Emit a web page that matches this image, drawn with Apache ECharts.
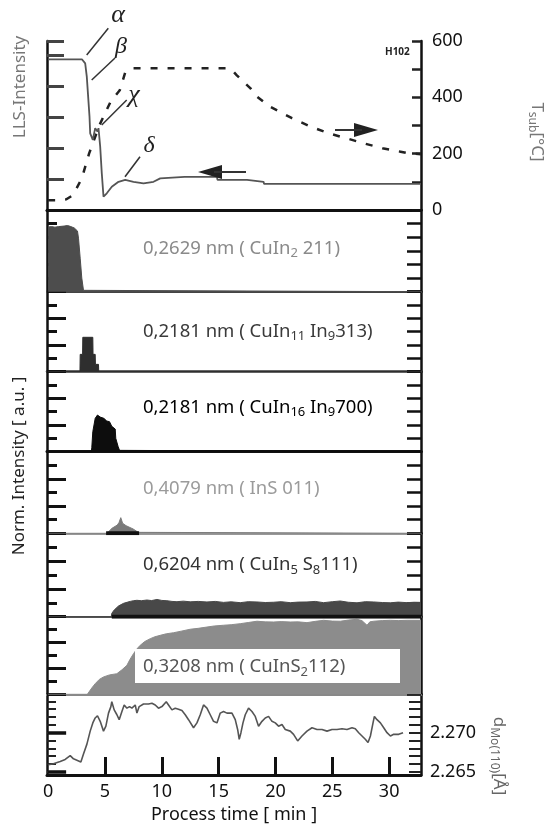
<!DOCTYPE html>
<html><head><meta charset="utf-8">
<script src="https://cdn.jsdelivr.net/npm/echarts@6/dist/echarts.min.js"></script>
<style>html,body{margin:0;padding:0;background:#fff}#c{width:548px;height:825px}</style>
</head><body><div id="c"></div>
<script>
// ---------- data ----------
const xTickLabels = [0, 5, 10, 15, 20, 25, 30];
const xTicks = [5, 10, 15, 20, 25, 30];
const tempTickLabels = [0, 200, 400, 600];
const dMoTickLabels = [2.265, 2.270];
const dMoMinorTicks = [2.265, 2.266, 2.267, 2.268, 2.269, 2.270, 2.271, 2.272, 2.273, 2.274];

const llsTime  = [0, 2.97, 3.26, 3.4, 3.64, 3.7, 3.93, 4.14, 4.34, 4.43, 4.58, 4.72, 4.87, 5.16, 5.6, 6.19, 6.78, 7.51, 8.39, 9.27, 9.86, 12.0, 14.85, 14.9, 17.5, 17.55, 18.95, 19.0, 32.8];
const llsValue = [4.86, 4.86, 4.73, 4.3, 3.01, 2.47, 2.26, 2.64, 2.53, 2.64, 2.04, 1.18, 0.43, 0.54, 0.75, 0.91, 0.97, 0.91, 0.86, 0.91, 1.02, 1.07, 1.07, 0.97, 0.97, 0.91, 0.91, 0.84, 0.84];

const tempTime  = [0, 1.0, 1.6, 2.2, 2.8, 3.0, 3.6, 4.5, 5.5, 6.3, 6.8, 7.5, 15.9, 16.3, 16.6, 17.8, 18.2, 19.5, 21.45, 23.1, 24.7, 26.2, 27.75, 29.4, 31.0, 31.7, 32.8];
const tempValue = [35, 35, 38, 53, 100, 117, 200, 300, 385, 425, 491, 503, 503, 491, 478, 432, 408, 367, 326, 296, 272, 255, 237, 219, 207, 201, 198];

// CuIn2 211
const p2Time  = [0, 0.3, 0.6, 0.91, 1.06, 1.4, 1.7, 1.94, 2.08, 2.3, 2.46, 2.58, 2.67, 2.82, 2.96, 3.11, 3.2, 32.8];
const p2Value = [4.75, 4.78, 4.74, 4.78, 4.85, 4.82, 4.86, 4.8, 4.7, 4.68, 4.66, 4.46, 3.93, 2.46, 1.0, 0.1, 0, 0];
// CuIn11 In9 313
const p3Time  = [0, 2.8, 2.82, 3.03, 3.05, 3.93, 3.95, 4.14, 4.16, 4.43, 4.45, 32.8];
const p3Value = [0, 0, 1.3, 1.3, 2.58, 2.58, 1.3, 1.3, 0.55, 0.55, 0, 0];
// CuIn16 In9 700
const p4Time  = [0, 3.8, 3.84, 3.93, 4.14, 4.34, 4.58, 4.9, 5.16, 5.4, 5.6, 5.75, 5.9, 5.95, 6.1, 6.15, 6.28, 6.32, 32.8];
const p4Value = [0, 0, 0.3, 1.5, 2.5, 2.75, 2.6, 2.5, 2.3, 2.25, 1.9, 1.8, 1.7, 1.0, 1.0, 0.4, 0.1, 0, 0];
// InS 011
const p5Time  = [0, 5.1, 5.32, 5.62, 6.09, 6.24, 6.39, 6.55, 6.85, 7.47, 7.93, 8.1, 32.8];
const p5Value = [0, 0, 0.12, 0.37, 0.61, 0.8, 1.15, 0.74, 0.56, 0.32, 0.07, 0, 0];
const p5BaseTime = [5.1, 8.0];
const p5BaseValue = [0, 0];
// CuIn5 S8 111
const p6Time  = [0, 5.55, 5.6, 5.81, 6.19, 6.63, 7.0, 7.22, 7.5, 7.81, 8.2, 8.69, 9.1, 9.57, 10.0, 10.45, 10.9, 11.33, 11.9, 12.5, 13.2, 13.97, 14.7, 15.43, 16.1, 16.9, 17.6, 18.37, 19.1, 19.83, 20.5, 21.3, 22.0, 22.77, 23.5, 24.23, 25.0, 25.7, 26.4, 27.17, 27.9, 28.64, 29.4, 30.1, 30.8, 31.58, 32.2, 32.8];
const p6Value = [0, 0, 0.24, 0.48, 0.77, 0.96, 1.05, 1.1, 1.15, 1.18, 1.15, 1.2, 1.16, 1.24, 1.17, 1.15, 1.1, 1.08, 1.12, 1.07, 1.1, 1.06, 1.1, 1.03, 1.07, 1.01, 1.08, 1.06, 1.02, 1.04, 1.08, 1.01, 1.05, 1.06, 1.1, 1.01, 1.08, 1.13, 1.04, 1.0, 1.08, 1.06, 1.02, 1.0, 1.05, 1.01, 1.04, 1.03];
const p6BaseTime = [5.6, 32.8];
const p6BaseValue = [0, 0];
// CuInS2 112
const p7Time  = [0, 3.45, 3.55, 3.85, 4.14, 4.5, 4.87, 5.4, 6.04, 6.5, 6.93, 7.2, 7.51, 7.8, 8.1, 8.5, 8.98, 9.4, 9.86, 10.4, 11.03, 11.7, 12.5, 13.2, 13.97, 14.6, 15.43, 16.1, 16.9, 17.6, 18.37, 19.1, 19.83, 20.5, 21.3, 22.0, 22.77, 23.5, 24.23, 25.0, 25.7, 26.4, 27.17, 27.6, 28.05, 28.3, 28.64, 29.4, 30.1, 30.8, 31.58, 32.8];
const p7Value = [0, 0, 0.15, 0.5, 0.82, 1.15, 1.34, 1.5, 1.59, 1.9, 2.24, 2.7, 3.14, 3.5, 3.79, 4.08, 4.3, 4.45, 4.56, 4.68, 4.76, 4.88, 5.03, 5.1, 5.2, 5.28, 5.34, 5.38, 5.46, 5.55, 5.65, 5.6, 5.59, 5.62, 5.59, 5.6, 5.54, 5.64, 5.72, 5.66, 5.65, 5.74, 5.8, 5.7, 5.34, 5.6, 5.65, 5.7, 5.72, 5.7, 5.72, 5.72];
// d Mo(110)
const dMoTime = [0.03, 0.47, 1.06, 1.5, 1.94, 2.23, 2.58, 2.88, 3.11, 3.41, 3.7, 3.93, 4.14, 4.34, 4.58, 4.87, 5.08, 5.31, 5.52, 5.6, 5.81, 6.05, 6.25, 6.49, 6.69, 6.93, 7.16, 7.37, 7.66, 7.81, 8.01, 8.39, 8.83, 9.13, 9.42, 9.71, 10.01, 10.39, 10.59, 10.89, 11.18, 11.47, 11.77, 12.06, 12.35, 12.79, 13.09, 13.38, 13.67, 13.97, 14.26, 14.55, 14.85, 15.14,
  15.43, 15.73, 16.17, 16.46, 16.67, 16.81, 16.96, 17.14, 17.34, 17.63, 17.93, 18.22, 18.51, 18.81, 19.1, 19.39, 19.69, 19.98, 20.27, 20.57, 20.86, 21.3, 21.59, 21.95, 22.33, 22.77, 23.21, 23.65, 24.09, 24.53, 24.97, 25.41, 25.85, 26.29, 26.73, 27.02, 27.32, 27.61, 27.9, 28.14, 28.35, 28.58, 28.7, 28.93, 29.23, 29.52, 29.81, 30.11, 30.4, 30.84, 31.22];
const dMoValue = [2.26591, 2.26604, 2.26633, 2.26658, 2.26708, 2.26666, 2.26645, 2.26625, 2.26729, 2.26854, 2.2702, 2.27125, 2.27188, 2.27216, 2.27145, 2.2702, 2.27083, 2.2725, 2.27333, 2.27395, 2.27291, 2.27229, 2.27166, 2.2727, 2.27354, 2.27313, 2.27333, 2.27313, 2.27354, 2.2725, 2.27333, 2.27366, 2.27366, 2.27375, 2.27354, 2.27313, 2.27333, 2.27395, 2.27354, 2.27291, 2.27313, 2.273, 2.27283, 2.27229, 2.27166, 2.27063, 2.27125, 2.27229, 2.27354, 2.27313, 2.27229, 2.27145, 2.27125, 2.2725,
  2.2727, 2.2725, 2.2725, 2.27166, 2.27041, 2.26916, 2.27, 2.27125, 2.27229, 2.27313, 2.2727, 2.27208, 2.27083, 2.27145, 2.27188, 2.27208, 2.27145, 2.27125, 2.27083, 2.27104, 2.27041, 2.2702, 2.26979, 2.26895, 2.26958, 2.2702, 2.27063, 2.27041, 2.27041, 2.2702, 2.27041, 2.27041, 2.2705, 2.27041, 2.27063, 2.2705, 2.27, 2.26958, 2.26916, 2.26875, 2.26958, 2.27125, 2.27208, 2.27166, 2.27125, 2.27063, 2.27, 2.26958, 2.26979, 2.26979, 2.27];

// ---------- layout ----------
const FONT = 'Noto Sans';
const LEFT = 47, WIDTH = 374, XMIN = -0.1, XMAX = 32.8;
const panels = [
  {top: 41, h: 169, base: {color: '#222', width: 2.5}},
  {top: 210, h: 81.7, base: {color: '#444', width: 2}},
  {top: 291.7, h: 80, base: {color: '#333', width: 2.5}},
  {top: 371.7, h: 80, base: {color: '#111', width: 3}},
  {top: 451.7, h: 81.6, base: {color: '#777', width: 1.5}},
  {top: 533.3, h: 83.4, base: {color: '#555', width: 2}},
  {top: 616.7, h: 77.6, base: {color: '#888', width: 2}},
  {top: 694.3, h: 82.4, base: {color: '#111', width: 3}}
];
const areaColors = ['#4d4d4d', '#2e2e2e', '#0d0d0d', '#7a7a7a', '#484848', '#8c8c8c'];
const pairs = (t, v) => t.map((x, i) => [x, v[i]]);

const grid = panels.map(p => ({left: LEFT, width: WIDTH, top: p.top, height: p.h}));
const xAxis = panels.map((p, i) => {
  const last = i === panels.length - 1;
  return {
    type: 'value', gridIndex: i, min: XMIN, max: XMAX, position: 'bottom',
    axisLine: {show: true, onZero: false, lineStyle: {color: p.base.color, width: p.base.width}},
    axisTick: last ? {show: true, inside: true, length: 18, customValues: xTicks, lineStyle: {color: '#111', width: 3}} : {show: false},
    axisLabel: last ? {show: true, customValues: xTickLabels, fontSize: 18, fontFamily: FONT, color: '#111', margin: 8} : {show: false},
    splitLine: {show: false},
    name: last ? 'Process time [ min ]' : '', nameLocation: 'middle', nameGap: 31,
    nameTextStyle: {fontSize: 18, fontFamily: FONT, color: '#111'}
  };
});
xAxis.push({type: 'value', gridIndex: 0, min: XMIN, max: XMAX, position: 'top',
  axisLine: {show: true, lineStyle: {color: '#111', width: 3}}, axisTick: {show: false}, axisLabel: {show: false}, splitLine: {show: false}});

const edge = {show: true, onZero: false, lineStyle: {color: '#111', width: 2.5}};
const yAxis = [];
// panel 0
yAxis.push({type: 'value', gridIndex: 0, position: 'left', min: 0, max: 5.45, interval: 1,
  axisLine: edge, axisTick: {show: true, inside: true, length: 17, lineStyle: {color: '#444', width: 3}},
  axisLabel: {show: false}, splitLine: {show: false}});
yAxis.push({type: 'value', gridIndex: 0, position: 'right', min: 0, max: 600, interval: 100,
  axisLine: edge, axisTick: {show: true, inside: true, length: 9, lineStyle: {color: '#222', width: 2.5}},
  axisLabel: {show: true, fontSize: 18, fontFamily: FONT, color: '#111', margin: 11,
    formatter: v => tempTickLabels.indexOf(v) >= 0 ? String(v) : ''},
  splitLine: {show: false}});
for (let p = 1; p <= 6; p++) {
  yAxis.push({type: 'value', gridIndex: p, position: 'left', min: 0, max: 6, interval: 2,
    axisLine: edge, axisTick: {show: true, inside: true, length: 19, lineStyle: {color: '#111', width: 3}},
    minorTick: {show: true, splitNumber: 2, length: 10, lineStyle: {color: '#111', width: 3}},
    axisLabel: {show: false}, splitLine: {show: false}, minorSplitLine: {show: false}});
  yAxis.push({type: 'value', gridIndex: p, position: 'right', min: 0, max: 6, interval: 1,
    axisLine: edge, axisTick: {show: true, inside: true, length: 14, lineStyle: {color: '#111', width: 2.5}},
    axisLabel: {show: false}, splitLine: {show: false}});
}
yAxis.push({type: 'value', gridIndex: 7, position: 'left', min: 2.2646, max: 2.2749,
  axisLine: edge, axisTick: {show: true, inside: true, length: 9, customValues: dMoMinorTicks, lineStyle: {color: '#222', width: 2}},
  axisLabel: {show: false}, splitLine: {show: false}});
yAxis.push({type: 'value', gridIndex: 7, position: 'left', min: 2.2646, max: 2.2749,
  axisLine: {show: false}, axisTick: {show: true, inside: true, length: 18, customValues: dMoTickLabels, lineStyle: {color: '#111', width: 3.5}},
  axisLabel: {show: false}, splitLine: {show: false}});
yAxis.push({type: 'value', gridIndex: 7, position: 'right', min: 2.2646, max: 2.2749,
  axisLine: edge, axisTick: {show: true, inside: true, length: 12, customValues: dMoMinorTicks, lineStyle: {color: '#222', width: 2}},
  axisLabel: {show: true, customValues: dMoTickLabels, formatter: v => v.toFixed(3), fontSize: 18, fontFamily: FONT, color: '#111', margin: 9},
  splitLine: {show: false}});

const series = [];
series.push({type: 'line', xAxisIndex: 0, yAxisIndex: 0, data: pairs(llsTime, llsValue), symbol: 'none',
  lineStyle: {color: '#555', width: 1.8}, z: 5});
series.push({type: 'line', xAxisIndex: 0, yAxisIndex: 1, data: pairs(tempTime, tempValue), symbol: 'none',
  lineStyle: {color: '#222', width: 2.5, type: [7, 10]}, z: 4});
const areaSets = [[p2Time, p2Value], [p3Time, p3Value], [p4Time, p4Value], [p5Time, p5Value], [p6Time, p6Value], [p7Time, p7Value]];
areaSets.forEach((s, k) => {
  const p = k + 1;
  series.push({type: 'line', xAxisIndex: p, yAxisIndex: 2 * p, data: pairs(s[0], s[1]), symbol: 'none',
    lineStyle: {color: areaColors[k], width: 1}, areaStyle: {color: areaColors[k], opacity: 1}, z: 2});
});
series.push({type: 'line', xAxisIndex: 4, yAxisIndex: 8, data: pairs(p5BaseTime, p5BaseValue), symbol: 'none',
  lineStyle: {color: '#111', width: 4}, z: 6});
series.push({type: 'line', xAxisIndex: 5, yAxisIndex: 10, data: pairs(p6BaseTime, p6BaseValue), symbol: 'none',
  lineStyle: {color: '#111', width: 4}, z: 6});
series.push({type: 'line', xAxisIndex: 7, yAxisIndex: 16, data: pairs(dMoTime, dMoValue), symbol: 'none',
  lineStyle: {color: '#555', width: 1.6}, z: 5});

// ---------- annotations ----------
function txt(x, y, text, color, o) {
  o = o || {};
  const size = o.size || 17;
  return {type: 'text', x: x, y: y, rotation: o.rot || 0, z: 100,
    style: {text: text, fill: color, fontSize: size, fontFamily: o.family || FONT,
      fontStyle: o.italic ? 'italic' : 'normal', fontWeight: o.bold ? 'bold' : 'normal',
      align: o.align || 'left', verticalAlign: 'middle',
      rich: {s: {fontSize: Math.round(size * 0.7), fontFamily: FONT, fill: color, padding: [Math.round(size * 0.55), 0, 0, 0]}}}};
}
function seg(x1, y1, x2, y2, w) {
  return {type: 'line', z: 100, shape: {x1: x1, y1: y1, x2: x2, y2: y2}, style: {stroke: '#333', lineWidth: w || 1.5}};
}
const PS = 18.5;
const graphic = [
  {type: 'rect', z: 99, shape: {x: 135, y: 649, width: 265, height: 34}, style: {fill: '#fff'}},
  txt(143, 248.3, '0,2629 nm ( CuIn{s|2} 211)', '#8a8a8a', {size: PS}),
  txt(143, 331.7, '0,2181 nm ( CuIn{s|11} In{s|9}313)', '#3a3a3a', {size: PS}),
  txt(143, 407.5, '0,2181 nm ( CuIn{s|16} In{s|9}700)', '#000', {size: PS}),
  txt(143, 488.3, '0,4079 nm ( InS 011)', '#9b9b9b', {size: PS}),
  txt(143, 565, '0,6204 nm ( CuIn{s|5} S{s|8}111)', '#333', {size: PS}),
  txt(143, 667, '0,3208 nm ( CuInS{s|2}112)', '#555', {size: PS}),
  txt(20, 87, 'LLS-Intensity', '#777', {rot: Math.PI / 2, align: 'center'}),
  txt(19, 466, 'Norm. Intensity [ a.u. ]', '#222', {rot: Math.PI / 2, align: 'center'}),
  txt(537, 132, 'T{s|sub}[°C]', '#777', {rot: -Math.PI / 2, align: 'center'}),
  txt(499, 756, 'd{s|Mo(110)}[Å]', '#666', {rot: -Math.PI / 2, align: 'center'}),
  txt(385, 52, 'H102', '#222', {size: 10, bold: true}),
  txt(118, 15, 'α', '#222', {size: 26, italic: true, family: 'Liberation Serif', align: 'center'}),
  txt(121, 47, 'β', '#222', {size: 24, italic: true, family: 'Liberation Serif', align: 'center'}),
  txt(134, 95, 'χ', '#222', {size: 26, italic: true, family: 'Liberation Serif', align: 'center'}),
  txt(149, 146, 'δ', '#222', {size: 24, italic: true, family: 'Liberation Serif', align: 'center'}),
  seg(86.7, 55, 108.3, 28.3),
  seg(91.7, 80, 115, 58),
  seg(101.7, 125, 126.7, 100),
  seg(125, 176.7, 140, 156.7),
  {type: 'polygon', z: 100, shape: {points: [[198, 172], [222, 165], [222, 179]]}, style: {fill: '#222'}},
  seg(214, 172, 246, 172, 2),
  {type: 'polygon', z: 100, shape: {points: [[378, 130], [354, 123], [354, 137]]}, style: {fill: '#222'}},
  seg(335, 130, 362, 130, 2)
];

const chart = echarts.init(document.getElementById('c'), null, {renderer: 'canvas'});
chart.setOption({animation: false, backgroundColor: '#fff', grid: grid, xAxis: xAxis, yAxis: yAxis, series: series, graphic: graphic});
</script>
</body></html>
